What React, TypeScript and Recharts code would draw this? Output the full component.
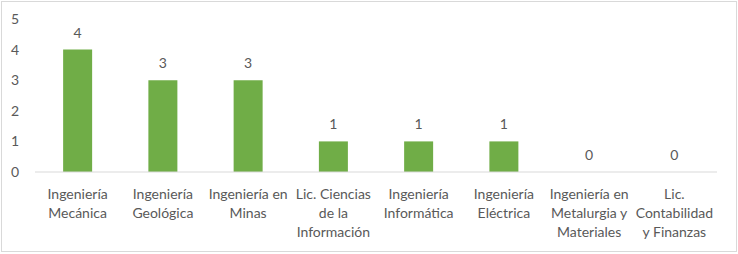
import React from "react";
import { ComposedChart, Bar, Line, XAxis, YAxis, LabelList } from "recharts";

const carreras = [
  "Ingeniería Mecánica",
  "Ingeniería Geológica",
  "Ingeniería en Minas",
  "Lic. Ciencias de la Información",
  "Ingeniería Informática",
  "Ingeniería Eléctrica",
  "Ingeniería en Metalurgia y Materiales",
  "Lic. Contabilidad y Finanzas",
];

const cantidades = [4, 3, 3, 1, 1, 1, 0, 0];

// how the category names wrap under the axis
const tickLines = [
  ["Ingeniería", "Mecánica"],
  ["Ingeniería", "Geológica"],
  ["Ingeniería en", "Minas"],
  ["Lic. Ciencias", "de la", "Información"],
  ["Ingeniería", "Informática"],
  ["Ingeniería", "Eléctrica"],
  ["Ingeniería en", "Metalurgia y", "Materiales"],
  ["Lic.", "Contabilidad", "y Finanzas"],
];

const yTicks = [0, 1, 2, 3, 4, 5];

const data = carreras.map((name, i) => ({ name, value: cantidades[i] }));

const FONT = "Lato, 'Open Sans', sans-serif";
const GRAY = "#595959";

const CategoryTick = (props: any) => {
  const { x, y, payload } = props;
  const idx = carreras.indexOf(payload.value);
  const lines = tickLines[idx] || [payload.value];
  return (
    <text
      x={x}
      y={y}
      textAnchor="middle"
      fill={GRAY}
      fontSize={14}
      fontFamily={FONT}
    >
      {lines.map((l, i) => (
        <tspan key={i} x={x} dy={i === 0 ? 18.5 : 19.3}>
          {l}
        </tspan>
      ))}
    </text>
  );
};

// value labels hang off an invisible line so that the zero bars get theirs too
const ValueLabel = (props: any) => {
  const { x, y, value } = props;
  if (x == null || y == null) return null;
  return (
    <text
      x={Number(x)}
      y={Number(y) - 12}
      textAnchor="middle"
      fill={GRAY}
      fontSize={14}
      fontFamily={FONT}
    >
      {value}
    </text>
  );
};

export default function App() {
  return (
    <div style={{ position: "absolute", left: 0, top: 0, width: 738, height: 254, background: "#fff" }}>
      <div
        style={{
          position: "absolute",
          left: 1,
          top: 1,
          width: 734,
          height: 249,
          border: "1px solid #d9d9d9",
        }}
      />
      <ComposedChart
        width={738}
        height={254}
        data={data}
        margin={{ top: 19, right: 21, bottom: 0, left: 0 }}
        barCategoryGap="33%"
      >
        <XAxis
          dataKey="name"
          interval={0}
          height={82}
          tickLine={false}
          axisLine={{ stroke: "#d9d9d9", strokeWidth: 1 }}
          tick={<CategoryTick />}
        />
        <YAxis
          width={35}
          domain={[0, 5]}
          ticks={yTicks}
          axisLine={false}
          tickLine={false}
          tickMargin={10}
          tick={{ fill: GRAY, fontSize: 14, fontFamily: FONT }}
        />
        <Bar dataKey="value" fill="#70ad47" isAnimationActive={false} />
        <Line
          dataKey="value"
          stroke="none"
          dot={false}
          activeDot={false}
          legendType="none"
          isAnimationActive={false}
        >
          <LabelList dataKey="value" content={<ValueLabel />} />
        </Line>
      </ComposedChart>
    </div>
  );
}
